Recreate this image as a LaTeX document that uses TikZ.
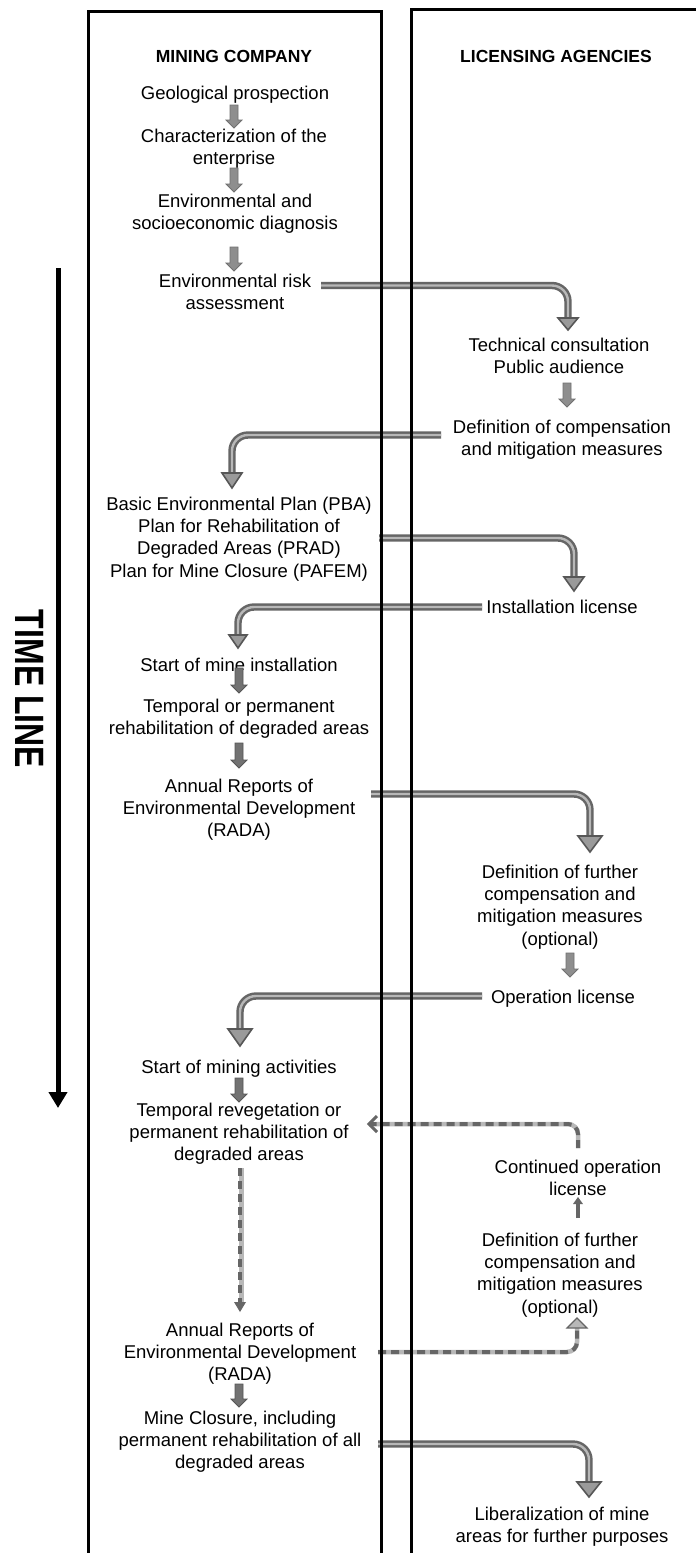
\documentclass[tikz,border=0pt]{standalone}
\usepackage{fontspec}
\setmainfont{Liberation Sans}
\usetikzlibrary{arrows.meta,calc}
\definecolor{dk}{HTML}{666666}
\definecolor{lt}{HTML}{B8B8B8}
\definecolor{hd}{HTML}{9A9A9A}
\definecolor{sfill}{HTML}{8E8E8E}
\definecolor{sdraw}{HTML}{707070}
\definecolor{sfillb}{HTML}{727272}
\definecolor{sdrawb}{HTML}{555555}
\newcommand\bigarrow[4]{%
  \draw[bigline] (#1) -| ($(#2)+(0,-#4+1)$);
  \draw[bighead] ($(#2)+(-#3,-#4)$) -- (#2) -- ($(#2)+(#3,-#4)$) -- cycle;}
\newcommand\smallarrow[4]{%
  \filldraw[#4] (#1-4,#2) -- (#1+4,#2) -- (#1+4,#3-8) -- (#1+8,#3-8) -- (#1,#3)
    -- (#1-8,#3-8) -- (#1-4,#3-8) -- cycle;}
\begin{document}
\begin{tikzpicture}[x=1pt,y=-1pt,
  txt/.style={align=center, inner sep=0pt, anchor=base, font=\fontsize{18.5}{22.4}\selectfont},
  hdr/.style={inner sep=0pt, anchor=base, font=\bfseries\fontsize{17.5}{21}\selectfont},
  bigline/.style={draw=dk, double=lt, double distance=2.4pt, line width=2.5pt, rounded corners=16pt},
  bighead/.style={fill=hd, draw=dk!85!black, line width=1.6pt, line join=miter},
  sa/.style={fill=sfill, draw=sdraw, line width=0.8pt},
  sb/.style={fill=sfillb, draw=sdrawb, line width=0.8pt},
  dashbase/.style={draw=lt, line width=4.5pt, rounded corners=10pt},
  dashtop/.style={draw=dk, line width=4pt, dash pattern=on 8pt off 5pt, rounded corners=10pt},
  colline/.style={draw=black, line width=3pt}]
\useasboundingbox (0,0) rectangle (696,1553);
\fill[white] (0,0) rectangle (696,1553);

% time line
\coordinate (tl1) at (58,268);
\coordinate (tl2) at (58,1108);
\draw[line width=5pt, -{Triangle[length=16pt,width=18pt]}] (tl1) -- (tl2);
\node[rotate=-90, inner sep=0pt, font=\bfseries\fontsize{41}{41}\selectfont] (tlt) at (30,689) {\scalebox{0.78}[1]{TIME LINE}};

% text (anchor = baseline of the last line)
\node[hdr] (h1) at (234,62) {MINING COMPANY};
\node[hdr] (h2) at (556,62) {LICENSING AGENCIES};
\node[txt] (n1) at (235,99) {Geological prospection};
\node[txt] (n2) at (234,164.4) {Characterization of the\\enterprise};
\node[txt] (n3) at (235,229.4) {Environmental and\\socioeconomic diagnosis};
\node[txt] (n4) at (235,309.4) {Environmental risk\\assessment};
\node[txt] (n5) at (559,373.4) {Technical consultation\\Public audience};
\node[txt] (n6) at (562,455.4) {Definition of compensation\\and mitigation measures};
\node[txt] (n7) at (239,577.2) {Basic Environmental Plan (PBA)\\Plan for Rehabilitation of\\Degraded Areas (PRAD)\\Plan for Mine Closure (PAFEM)};
\node[txt] (n8) at (562,613) {Installation license};
\node[txt] (n9) at (239,671) {Start of mine installation};
\node[txt] (n10) at (239,734.4) {Temporal or permanent\\rehabilitation of degraded areas};
\node[txt] (n11) at (239,836.8) {Annual Reports of\\Environmental Development\\(RADA)};
\node[txt] (n12) at (560,945.2) {Definition of further\\compensation and\\mitigation measures\\(optional)};
\node[txt] (n13) at (563,1003) {Operation license};
\node[txt] (n14) at (239,1073) {Start of mining activities};
\node[txt] (n15) at (239,1160.8) {Temporal revegetation or\\permanent rehabilitation of\\degraded areas};
\node[txt] (n16) at (578,1195.4) {Continued operation\\license};
\node[txt] (n17) at (560,1313.2) {Definition of further\\compensation and\\mitigation measures\\(optional)};
\node[txt] (n18) at (240,1380.8) {Annual Reports of\\Environmental Development\\(RADA)};
\node[txt] (n19) at (240,1468.8) {Mine Closure, including\\permanent rehabilitation of all\\degraded areas};
\node[txt] (n20) at (562,1542.4) {Liberalization of mine\\areas for further purposes};

% small arrows
\smallarrow{234}{105}{128}{sa}
\smallarrow{234}{168}{192}{sa}
\smallarrow{234}{247}{271}{sa}
\smallarrow{567}{383}{407}{sa}
\smallarrow{239}{668}{693}{sb}
\smallarrow{239}{743}{768}{sb}
\smallarrow{570}{953}{977}{sa}
\smallarrow{239}{1078}{1102}{sb}
\smallarrow{239}{1384}{1407}{sb}

% big arrows
\coordinate (a1s) at (321,285.5); \coordinate (a1e) at (568,330);
\coordinate (a2s) at (441,435);   \coordinate (a2e) at (232,488);
\coordinate (a3s) at (379,538);   \coordinate (a3e) at (574,591);
\coordinate (a4s) at (482,607);   \coordinate (a4e) at (238,648);
\coordinate (a5s) at (371,794);   \coordinate (a5e) at (590,852);
\coordinate (a6s) at (482,996);   \coordinate (a6e) at (240,1046);
\coordinate (a7s) at (378,1444);  \coordinate (a7e) at (589,1497);
\bigarrow{a1s}{a1e}{10}{12}
\bigarrow{a2s}{a2e}{10}{15}
\bigarrow{a3s}{a3e}{10}{14}
\bigarrow{a4s}{a4e}{9}{13}
\bigarrow{a5s}{a5e}{12}{16}
\bigarrow{a6s}{a6e}{12}{17}
\bigarrow{a7s}{a7e}{12}{15}

% dashed arrows
\coordinate (d1s) at (578,1148); \coordinate (d1e) at (369,1124);
\draw[dashbase] (d1s) |- (d1e);
\draw[dashtop] (d1s) |- (d1e);
\draw[dk, line width=3pt] ($(d1e)+(8,-8)$) -- (d1e) -- ($(d1e)+(8,8)$);

\coordinate (d2s) at (578,1218); \coordinate (d2e) at (578,1197);
\draw[dk, line width=4pt] (d2s) -- ($(d2e)+(0,6)$);
\fill[dk] ($(d2e)+(-5,7)$) -- (d2e) -- ($(d2e)+(5,7)$) -- cycle;

\coordinate (d3s) at (240,1168); \coordinate (d3e) at (240,1312);
\draw[dashbase] ($(d3s)+(1.5,0)$) -- ($(d3e)+(1.5,-9)$);
\draw[dashtop] (d3s) -- ($(d3e)+(0,-9)$);
\fill[dk] ($(d3e)+(-6,-10)$) -- (d3e) -- ($(d3e)+(6,-10)$) -- cycle;

\coordinate (d4s) at (378,1352); \coordinate (d4e) at (577,1318);
\draw[dashbase] (d4s) -| ($(d4e)+(0,9)$);
\draw[dashtop] (d4s) -| ($(d4e)+(0,9)$);
\filldraw[fill=lt, draw=dk, line width=1.2pt] ($(d4e)+(-10,10)$) -- (d4e) -- ($(d4e)+(10,10)$) -- cycle;

% columns
\draw[colline] (88,1560) -- (88,11) -- (381,11) -- (381,1560);
\draw[colline] (411,1560) -- (411,9) -- (705,9);
\end{tikzpicture}
\end{document}
